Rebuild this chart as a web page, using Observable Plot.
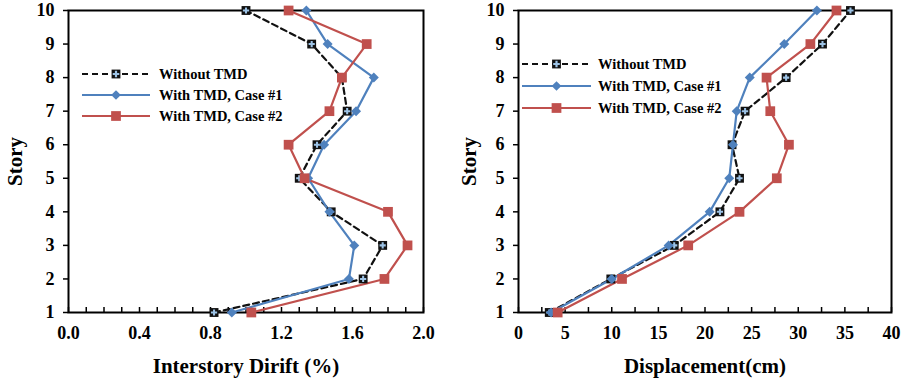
<!DOCTYPE html>
<html>
<head>
<meta charset="utf-8">
<script src="https://cdn.jsdelivr.net/npm/d3@7"></script>
<script src="https://cdn.jsdelivr.net/npm/@observablehq/plot@0.6"></script>
<style>
  html, body { margin: 0; padding: 0; background: #fff; }
  #wrap { position: relative; width: 905px; height: 378px; overflow: hidden; }
  .panel { position: absolute; top: 0; }
  .panel svg { overflow: visible; }
  g[aria-label$="axis label"] { font-size: 21px; }
  .legend { position: absolute; top: 0; left: 0; overflow: visible; }
</style>
</head>
<body>
<div id="wrap"></div>
<script>
// ---- data (story 1 .. 10) ----
const stories = [1, 2, 3, 4, 5, 6, 7, 8, 9, 10];
const seriesNames = ["Without TMD", "With TMD, Case #1", "With TMD, Case #2"];
const driftWithout = [0.82, 1.66, 1.77, 1.48, 1.30, 1.40, 1.57, 1.54, 1.37, 1.00];
const driftCase1   = [0.92, 1.58, 1.61, 1.47, 1.35, 1.44, 1.62, 1.72, 1.46, 1.34];
const driftCase2   = [1.03, 1.78, 1.91, 1.80, 1.33, 1.24, 1.47, 1.54, 1.68, 1.24];
const dispWithout  = [3.3, 9.9, 16.7, 21.6, 23.7, 22.9, 24.3, 28.7, 32.6, 35.6];
const dispCase1    = [3.5, 10.0, 16.1, 20.5, 22.6, 23.0, 23.4, 24.8, 28.5, 32.0];
const dispCase2    = [4.2, 11.1, 18.2, 23.7, 27.7, 29.0, 27.0, 26.6, 31.3, 34.1];
const driftTickLabels = [0.0, 0.4, 0.8, 1.2, 1.6, 2.0];
const dispTickLabels = [0, 5, 10, 15, 20, 25, 30, 35, 40];

// ---- styles ----
const colors = ["#111111", "#4F81BD", "#C0504D"];
const plusColor = "#9DC3E6";
const font = "'Liberation Serif', 'Times New Roman', Tinos, 'DejaVu Serif Condensed', serif";

function rows(values) { return stories.map((s, i) => ({story: s, v: values[i]})); }

function makePanel({series, xDomain, minorStep, labels, fmt, label, width, left, marginLeft, marginRight, yLabelOffset}) {
  const data = series.map(rows);
  const marks = [
    Plot.frame({stroke: "#000", strokeWidth: 2}),
    Plot.axisY({ticks: stories, tickSize: 5, tickPadding: 9, strokeWidth: 1.5, fontSize: 18,
                label: "Story", labelAnchor: "center", labelOffset: yLabelOffset, labelArrow: "none"}),
    Plot.axisX({ticks: d3.range(xDomain[0], xDomain[1] + minorStep / 2, minorStep), tickSize: 5, dy: -5,
                strokeWidth: 1.5, text: null, label: null}),
    Plot.axisX({ticks: labels, tickSize: 0, tickPadding: 14, tickFormat: fmt, fontSize: 18,
                label, labelAnchor: "center", labelOffset: 60, labelArrow: "none"}),
    // lines
    Plot.line(data[0], {x: "v", y: "story", stroke: colors[0], strokeWidth: 2.2, strokeDasharray: "6,4"}),
    Plot.line(data[1], {x: "v", y: "story", stroke: colors[1], strokeWidth: 2.2}),
    Plot.line(data[2], {x: "v", y: "story", stroke: colors[2], strokeWidth: 2.2}),
    // markers
    Plot.dot(data[0], {x: "v", y: "story", symbol: "square", r: 5, fill: colors[0], stroke: "none"}),
    Plot.dot(data[0], {x: "v", y: "story", symbol: "cross", r: 2.6, fill: plusColor, stroke: "none"}),
    Plot.dot(data[1], {x: "v", y: "story", symbol: "diamond2", r: 4.5, fill: colors[1], stroke: "none"}),
    Plot.dot(data[2], {x: "v", y: "story", symbol: "square", r: 5.5, fill: colors[2], stroke: "none"})
  ];
  const chart = Plot.plot({
    width, height: 378,
    marginLeft, marginRight, marginTop: 10, marginBottom: 66,
    style: {fontFamily: font, fontSize: "18px", fontWeight: "bold", color: "#000", background: "transparent"},
    x: {domain: xDomain},
    y: {domain: [1, 10]},
    marks
  });
  const div = document.createElement("div");
  div.className = "panel";
  div.style.left = left + "px";
  div.appendChild(chart);
  document.getElementById("wrap").appendChild(div);
}

function makeLegend({x0, x1, tx, ys}) {
  const svg = d3.select("#wrap").append("svg").attr("class", "legend")
    .attr("width", 905).attr("height", 378);
  seriesNames.forEach((name, i) => {
    const y = ys[i];
    const g = svg.append("g");
    g.append("line").attr("x1", x0).attr("x2", x1).attr("y1", y).attr("y2", y)
      .attr("stroke", colors[i]).attr("stroke-width", 2.2)
      .attr("stroke-dasharray", i === 0 ? "6,4" : null);
    const cx = (x0 + x1) / 2;
    const sym = i === 0 ? d3.symbolSquare : i === 1 ? d3.symbolDiamond2 : d3.symbolSquare;
    const size = i === 0 ? 78 : i === 1 ? 60 : 95;
    g.append("path").attr("d", d3.symbol(sym, size)()).attr("transform", `translate(${cx},${y})`)
      .attr("fill", colors[i]);
    if (i === 0) g.append("path").attr("d", d3.symbol(d3.symbolCross, 24)()).attr("transform", `translate(${cx},${y})`).attr("fill", plusColor);
    g.append("text").attr("x", tx).attr("y", y).attr("dy", "0.35em")
      .attr("font-family", font).attr("font-size", 14.5).attr("font-weight", "bold").text(name);
  });
}

makePanel({series: [driftWithout, driftCase1, driftCase2], xDomain: [0, 2], minorStep: 0.1,
  labels: driftTickLabels, fmt: d3.format(".1f"), label: "Interstory Dirift (%)",
  width: 460, left: 0, marginLeft: 68, marginRight: 37, yLabelOffset: 61});
makePanel({series: [dispWithout, dispCase1, dispCase2], xDomain: [0, 40], minorStep: 2.5,
  labels: dispTickLabels, fmt: d3.format("d"), label: "Displacement(cm)",
  width: 445, left: 460, marginLeft: 58, marginRight: 14, yLabelOffset: 57});

makeLegend({x0: 82, x1: 150, tx: 159, ys: [74, 95, 116]});
makeLegend({x0: 522, x1: 591, tx: 598, ys: [64, 86, 108]});
</script>
</body>
</html>
